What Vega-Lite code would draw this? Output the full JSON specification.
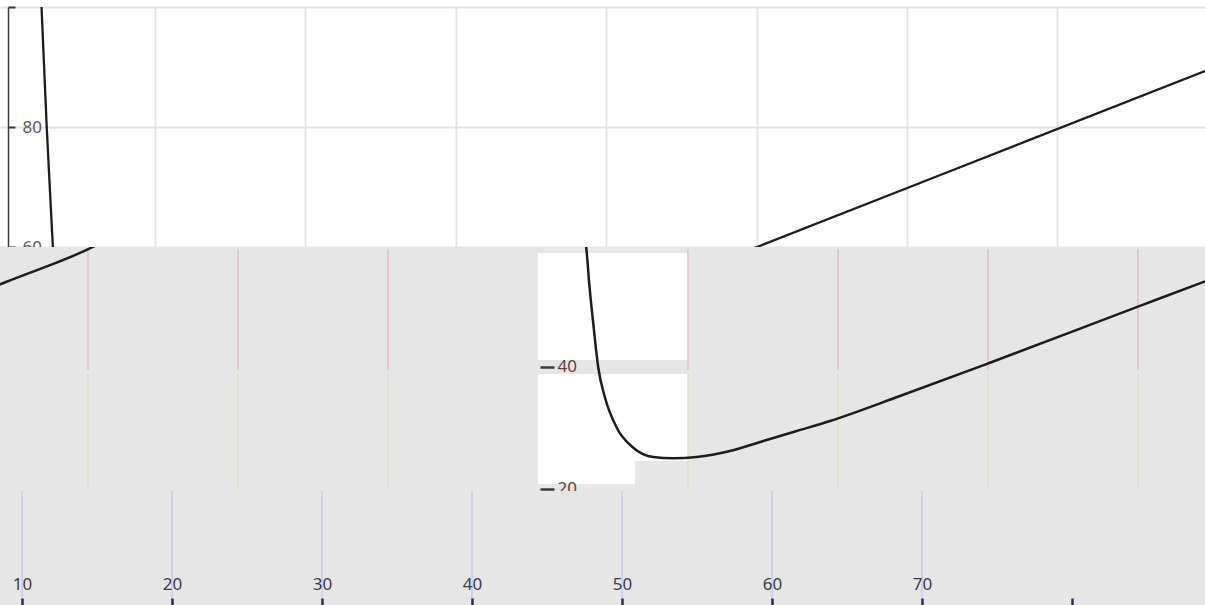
{
  "$schema": "https://vega.github.io/schema/vega-lite/v6.json",
  "padding": {"top": 6, "left": 0, "right": 0, "bottom": 0},
  "spacing": 0,
  "bounds": "flush",
  "config": {
    "view": {"stroke": null},
    "axis": {"labelFont": "Noto Sans", "labelFontSize": 17, "title": null}
  },
  "datasets": {
    "topLine": [
      {"x": 2.42, "y": 102},
      {"x": 2.8, "y": 80},
      {"x": 3.22, "y": 59.5},
      {"x": 3.6, "y": 40},
      {"x": 5, "y": 25},
      {"x": 20, "y": 30},
      {"x": 45, "y": 55.05},
      {"x": 50.03, "y": 60},
      {"x": 79.81, "y": 89.33},
      {"x": 81, "y": 90.5}
    ],
    "midLine": [
      {"series": "main", "x": 43.1, "y": 62.0},
      {"series": "main", "x": 43.25, "y": 58.74},
      {"series": "main", "x": 43.42, "y": 53.55},
      {"series": "main", "x": 43.69, "y": 47.0},
      {"series": "main", "x": 44.02, "y": 39.88},
      {"series": "main", "x": 44.47, "y": 34.96},
      {"series": "main", "x": 45.25, "y": 30.05},
      {"series": "main", "x": 46.35, "y": 26.77},
      {"series": "main", "x": 47.69, "y": 25.24},
      {"series": "main", "x": 49.02, "y": 25.03},
      {"series": "main", "x": 50.58, "y": 25.24},
      {"series": "main", "x": 52.8, "y": 26.23},
      {"series": "main", "x": 55.02, "y": 27.87},
      {"series": "main", "x": 57.25, "y": 29.51},
      {"series": "main", "x": 59.47, "y": 31.15},
      {"series": "main", "x": 64.13, "y": 35.24},
      {"series": "main", "x": 70.13, "y": 40.7},
      {"series": "main", "x": 80.13, "y": 50.02},
      {"series": "main", "x": 84.25, "y": 53.82},
      {"series": "main", "x": 85.0, "y": 54.5},
      {"series": "edge", "x": 4.0, "y": 53.4},
      {"series": "edge", "x": 4.53, "y": 53.93},
      {"series": "edge", "x": 9.73, "y": 59.0},
      {"series": "edge", "x": 10.5, "y": 59.9}
    ],
    "midRects": [
      {"kind": "paper", "x": 40.0, "x2": 50.0, "y": 20.8, "y2": 58.7},
      {"kind": "band", "x": 40.0, "x2": 50.0, "y": 38.86, "y2": 41.15},
      {"kind": "band", "x": 46.47, "x2": 50.0, "y": 19.67, "y2": 24.6}
    ],
    "gridB": [
      {"x": 10}, {"x": 20}, {"x": 30}, {"x": 50}, {"x": 60}, {"x": 70}, {"x": 80}
    ],
    "gridC": [
      {"x": 10}, {"x": 20}, {"x": 30}, {"x": 40}, {"x": 50}, {"x": 60}, {"x": 70}
    ]
  },
  "vconcat": [
    {
      "width": 1205,
      "height": 240,
      "view": {"fill": "white", "stroke": null},
      "data": {"name": "topLine"},
      "mark": {"type": "line", "color": "#1c1c1c", "strokeWidth": 2.3, "clip": true, "interpolate": "monotone"},
      "encoding": {
        "x": {
          "field": "x", "type": "quantitative",
          "scale": {"domain": [-0.306, 79.81], "nice": false, "zero": false},
          "axis": {"values": [10, 20, 30, 40, 50, 60, 70], "grid": true, "gridColor": "#e4e4e4", "gridWidth": 2, "domain": false, "ticks": false, "labels": false}
        },
        "y": {
          "field": "y", "type": "quantitative",
          "scale": {"domain": [60, 100], "nice": false, "zero": false},
          "axis": {
            "values": [60, 80, 100], "grid": true, "gridColor": "#e4e4e4", "gridWidth": 2,
            "offset": -8, "domainColor": "#3a3a3a", "domainWidth": 1.5,
            "tickColor": "#3a3a3a", "tickWidth": 2, "tickSize": -7,
            "labelAlign": "left", "labelPadding": -7, "labelColor": "#5a5a5a",
            "labelExpr": "datum.value == 100 ? '' : datum.label"
          }
        }
      }
    },
    {
      "width": 1205,
      "height": 244,
      "view": {"fill": "#e6e6e6", "stroke": null},
      "layer": [
        {
          "data": {"name": "midRects"},
          "mark": {"type": "rect"},
          "encoding": {
            "x": {"field": "x", "type": "quantitative", "scale": {"domain": [4.133, 84.467], "nice": false, "zero": false}, "axis": null},
            "x2": {"field": "x2"},
            "y": {"field": "y", "type": "quantitative", "scale": {"domain": [19.672, 59.672], "nice": false, "zero": false}, "axis": {"values": [20, 40], "offset": -540, "zindex": 2, "domain": false, "grid": false, "tickColor": "#3a3a3a", "tickWidth": 2.5, "tickSize": -14, "labelAlign": "left", "labelPadding": -3, "labelColor": "#6a3c3c"}},
            "y2": {"field": "y2"},
            "color": {"field": "kind", "type": "nominal", "scale": {"domain": ["paper", "band"], "range": ["#ffffff", "#e6e6e6"]}, "legend": null}
          }
        },
        {
          "data": {"name": "gridB"},
          "mark": {"type": "rule", "color": "#e6bcc6", "strokeWidth": 1.5},
          "encoding": {
            "x": {"field": "x", "type": "quantitative"},
            "y": {"datum": 39.5},
            "y2": {"datum": 59.3}
          }
        },
        {
          "data": {"name": "gridB"},
          "mark": {"type": "rule", "color": "#dbe2c4", "strokeWidth": 1.5},
          "encoding": {
            "x": {"field": "x", "type": "quantitative"},
            "y": {"datum": 20.0},
            "y2": {"datum": 38.9}
          }
        },
        {
          "data": {"name": "midLine"},
          "mark": {"type": "line", "color": "#1c1c1c", "strokeWidth": 2.5, "clip": true, "interpolate": "monotone"},
          "encoding": {
            "x": {"field": "x", "type": "quantitative"},
            "y": {"field": "y", "type": "quantitative"},
            "detail": {"field": "series", "type": "nominal"}
          }
        }
      ]
    },
    {
      "width": 1205,
      "height": 115,
      "view": {"fill": "#e6e6e6", "stroke": null},
      "data": {"name": "gridC"},
      "mark": {"type": "rule", "color": "#c9c9ee", "strokeWidth": 1.5},
      "encoding": {
        "x": {
          "field": "x", "type": "quantitative",
          "scale": {"domain": [8.533, 88.867], "nice": false, "zero": false},
          "axis": {
            "orient": "bottom", "values": [10, 20, 30, 40, 50, 60, 70, 80], "zindex": 2,
            "domain": false, "grid": false,
            "tickColor": "#2c2c5a", "tickWidth": 2.5, "tickSize": -8,
            "labelPadding": -14, "labelBaseline": "middle", "labelColor": "#3c3c46",
            "labelExpr": "datum.value == 80 ? '' : datum.label"
          }
        }
      }
    }
  ]
}
